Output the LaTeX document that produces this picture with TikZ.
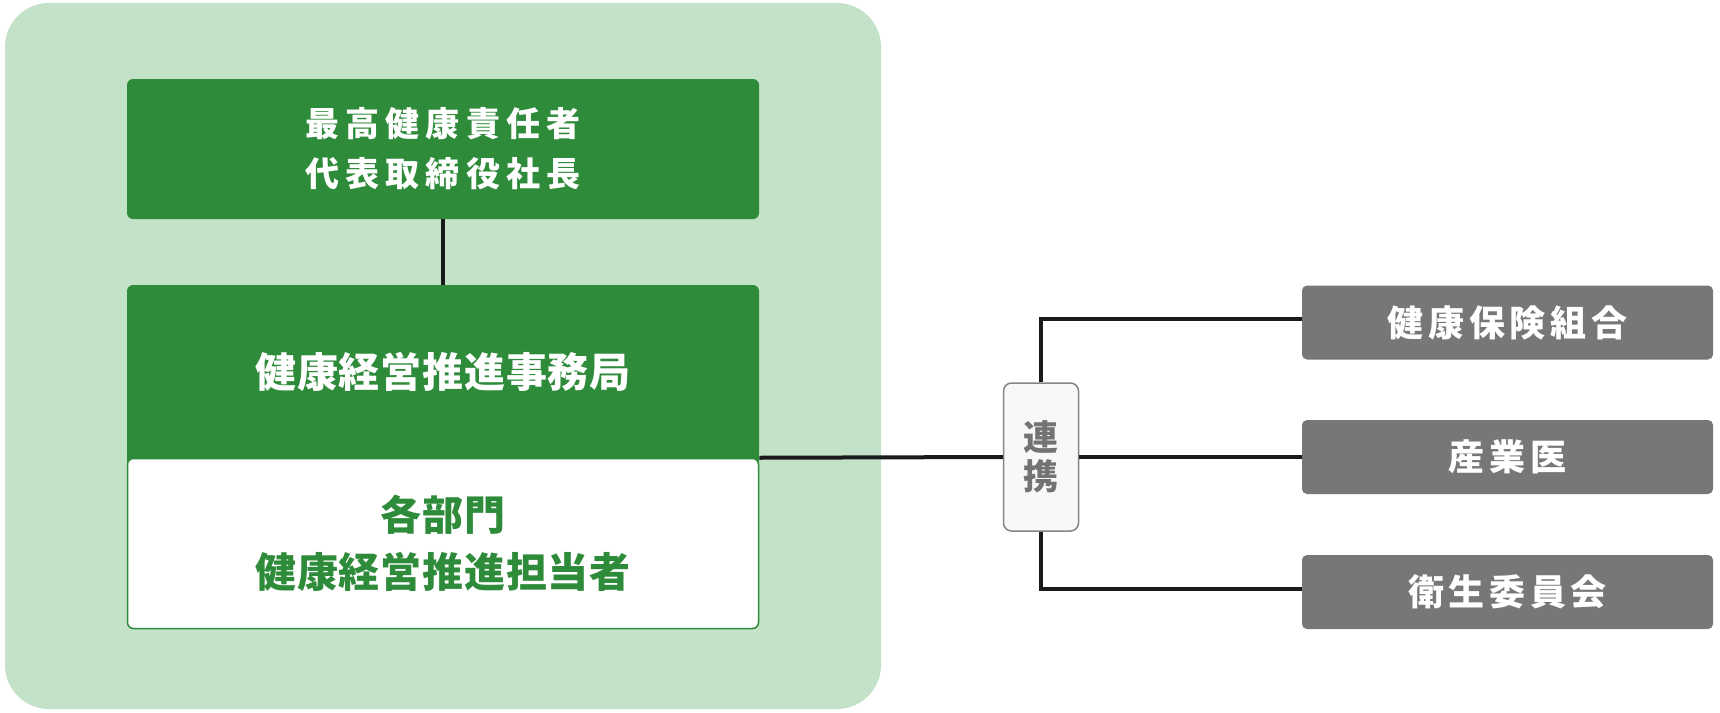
\documentclass[tikz,border=0pt]{standalone}
\usepackage{fontspec}
\newfontfamily\jpTop{Noto Sans CJK JP}[LetterSpace=18]
\newfontfamily\jpMid{Noto Sans CJK JP}[LetterSpace=2]
\newfontfamily\jpGray{Noto Sans CJK JP}[LetterSpace=13]
\newfontfamily\jpPlain{Noto Sans CJK JP}
\definecolor{bglight}{HTML}{C3E2C8}
\definecolor{dkgreen}{HTML}{2E8B3A}
\definecolor{boxgray}{HTML}{777777}
\definecolor{linec}{HTML}{1A1A1A}
\definecolor{rkborder}{HTML}{858585}
\definecolor{rkfill}{HTML}{F8F8F8}
\definecolor{rktext}{HTML}{737373}
\begin{document}
\begin{tikzpicture}[x=1pt,y=-1pt,
  greenbox/.style={fill=dkgreen, rounded corners=6, inner sep=0, text=white, align=center, minimum width=632},
  graybox/.style={fill=boxgray, rounded corners=5, inner sep=0, text=white, minimum width=411, minimum height=74,
    font=\jpGray\bfseries\fontsize{36}{40}\selectfont},
  conn/.style={draw=linec, line width=4}]
\useasboundingbox (0,0) rectangle (1720,712);
\fill[bglight, rounded corners=44] (5,3) rectangle (881,709);
% left column
\node[greenbox, minimum height=140, font=\jpTop\bfseries\fontsize{34}{50}\selectfont] (ceo) at (443,149) {最高健康責任者\\代表取締役社長};
\node[greenbox, minimum height=173, font=\jpMid\bfseries\fontsize{41}{50}\selectfont] (office) at (443,371.5) {健康経営推進事務局};
\fill[dkgreen] (127,440) rectangle (759,466);
\node[draw=dkgreen, line width=1.5, fill=white, rounded corners=6, minimum width=631, minimum height=170, inner sep=0,
  text=dkgreen, align=center, font=\jpMid\bfseries\fontsize{41}{57}\selectfont] (dept) at (443,543.5) {各部門\\健康経営推進担当者};
% right column
\node[draw=rkborder, fill=rkfill, line width=1.5, rounded corners=8, minimum width=75, minimum height=148, inner sep=0,
  text=rktext, align=center, font=\jpPlain\bfseries\fontsize{35}{39}\selectfont] (renkei) at (1041,457) {連\\携};
\node[graybox] (kenpo) at (1507.5,322.5) {健康保険組合};
\node[graybox] (sangyoi) at (1507.5,457) {産業医};
\node[graybox] (eisei) at (1507.5,592) {衛生委員会};
% connectors
\draw[conn] (ceo) -- (office);
\draw[conn] (dept.north east) -- (renkei.west);
\draw[conn] (renkei.north) |- ([yshift=4pt]kenpo.west);
\draw[conn] (renkei.east) -- (sangyoi.west);
\draw[conn] (renkei.south) |- ([yshift=3pt]eisei.west);
\end{tikzpicture}
\end{document}
